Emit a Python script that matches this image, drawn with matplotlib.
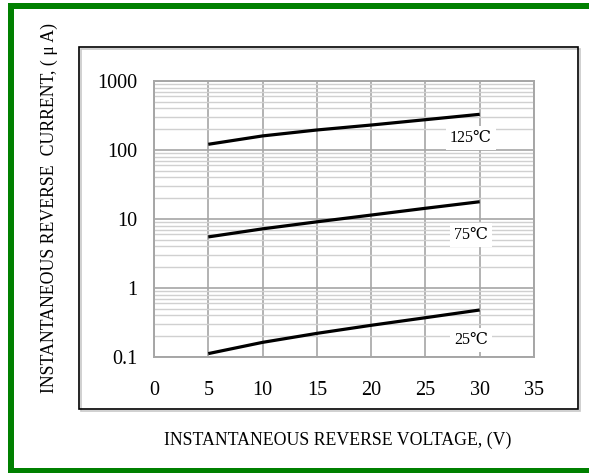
import matplotlib
matplotlib.use('Agg')
import matplotlib.pyplot as plt
from matplotlib.patches import Rectangle
from matplotlib.ticker import LogLocator, NullFormatter, FixedLocator

plt.rcParams['font.family'] = ['Liberation Serif', 'DejaVu Serif']

# reverse voltage (V)
voltage = [5, 10, 15, 20, 25, 30]
# reverse current (uA) per temperature
i_125 = [121, 160, 195, 230, 275, 329]
i_75 = [5.5, 7.2, 9.1, 11.4, 14.3, 17.8]
i_25 = [0.112, 0.163, 0.220, 0.288, 0.371, 0.480]

curve_labels = ['125℃', '75℃', '25℃']
label_x = [29.2, 29.2, 29.2]
label_y = [149, 5.9, 0.176]

x_ticks = [0, 5, 10, 15, 20, 25, 30, 35]
y_ticks = [0.1, 1, 10, 100, 1000]
y_ticklabels = ['0.1', '1', '10', '100', '1000']

W, H = 589, 473


def px(x, y, w, h):
    # pixel box (top-left origin) -> figure fraction box
    return (x / W, 1 - (y + h) / H, w / W, h / H)


fig = plt.figure(figsize=(W / 100, H / 100), dpi=100)

# green border
green = '#008000'
for (x, y, w, h) in [(8, 3, 581, 6), (8, 3, 6, 470), (8, 467.5, 581, 5.5)]:
    b = px(x, y, w, h)
    fig.add_artist(Rectangle(b[:2], b[2], b[3], transform=fig.transFigure, color=green, lw=0))

# inner black frame with faint shadow
bx = px(79, 47, 499, 362)
fig.add_artist(Rectangle((bx[0] + 2 / W, bx[1] - 2 / H), bx[2], bx[3], transform=fig.transFigure,
                         fill=False, edgecolor='#c8c8c8', lw=1.2))
fig.add_artist(Rectangle(bx[:2], bx[2], bx[3], transform=fig.transFigure,
                         fill=False, edgecolor='black', lw=1.2))

ax = fig.add_axes([154 / W, 1 - 357 / H, 380 / W, 276 / H])

for vals in (i_125, i_75, i_25):
    ax.plot(voltage, vals, color='black', lw=2.3, solid_capstyle='butt', zorder=4)

ax.set_yscale('log')
ax.set_xlim(0, 35)
ax.set_ylim(0.1, 1000)

ax.xaxis.set_major_locator(FixedLocator(x_ticks))
ax.set_xticklabels([str(t) for t in x_ticks])
ax.yaxis.set_major_locator(FixedLocator(y_ticks))
ax.set_yticklabels(y_ticklabels)
ax.yaxis.set_minor_locator(LogLocator(base=10, subs=range(2, 10), numticks=20))
ax.yaxis.set_minor_formatter(NullFormatter())

ax.tick_params(which='both', length=0)
ax.tick_params(axis='x', pad=17, labelsize=14.5)
ax.tick_params(axis='y', pad=12, labelsize=14.5)

ax.grid(True, which='major', color='#a6a6a6', lw=1.2)
ax.grid(True, which='minor', axis='y', color='#d0d0d0', lw=1.0)
ax.set_axisbelow(True)
for s in ax.spines.values():
    s.set_color('#a6a6a6')
    s.set_linewidth(1.4)

for t, lx, ly in zip(curve_labels, label_x, label_y):
    ax.text(lx, ly, t, fontsize=11.5, ha='center', va='center', zorder=3,
            bbox=dict(facecolor='white', edgecolor='none', pad=3))

fig.text(338 / W, 1 - 440 / H, 'INSTANTANEOUS REVERSE VOLTAGE, (V)',
         ha='center', va='center', fontsize=12.8)
fig.text(49 / W, 1 - 208 / H, 'INSTANTANEOUS REVERSE  CURRENT, ( μ A)',
         ha='center', va='center', rotation=90, fontsize=12.8)

fig.savefig('out.png', dpi=100)
